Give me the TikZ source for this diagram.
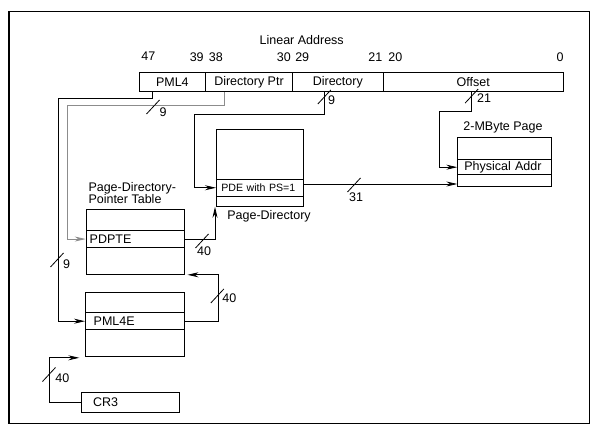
\documentclass[tikz,border=0pt]{standalone}
\usepackage{fontspec}
\setmainfont{Liberation Sans}
\usepackage{tikz}
\usetikzlibrary{arrows.meta}

\begin{document}
\begin{tikzpicture}[x=1pt,y=-1pt,
    every node/.style={font=\fontsize{12.5}{12.5}\selectfont,inner sep=0pt},
    addrfield/.style={draw,line width=0.8pt,minimum height=19pt},
    tabbox/.style={draw,line width=0.8pt,anchor=north west},
    entry/.style={draw,line width=0.8pt,anchor=north west,align=left,inner ysep=0pt},
    link/.style={line width=0.8pt,-{Stealth[length=11pt,width=5pt]}},
    wire/.style={line width=0.8pt}]
\useasboundingbox (0,0) rectangle (599,430);
\draw[line width=1.4pt] (9,11.7) rectangle (589.3,423.3);
% linear address
\node (latitle) at (301.7,40) {Linear Address};
\foreach \bx/\bt [count=\k] in {148.3/47,196.7/39,215.8/38,283.8/30,302.2/29,375.3/21,395.3/20,560.2/0}
{
    \node (bit\k) at (\bx,56.7) {\bt};
}
\foreach \n/\l/\r/\t in {pml4/139/205.7/PML4,dirptr/205.7/292.3/Directory Ptr,dir/292.3/383.3/Directory,offset/383.3/563.3/Offset}
{
    \node[addrfield,minimum width={\r-\l}] (\n) at ({(\l+\r)/2},82.2) {\t};
}
% tables
\node[tabbox,minimum width=87.3pt,minimum height=76.7pt] (pdtab) at (216,129.3) {};
\node[entry,text width=77.3pt,inner xsep=5pt,minimum height=16.7pt,font=\fontsize{10.6}{12}\selectfont] (pde) at (216,179) {PDE with PS=1};
\node (pdlbl) at (269,216.7) {Page-Directory};
\node[tabbox,minimum width=98.3pt,minimum height=64.7pt] (pdptab) at (85.7,209.3) {};
\node[entry,text width=91.1pt,inner xsep=3.6pt,minimum height=17.3pt] (pdpte) at (85.7,230) {PDPTE};
\node[align=left,anchor=west,font=\fontsize{12.5}{11.7}\selectfont] (pdptlbl) at (88.3,193) {Page-Directory-\\Pointer Table};
\node[tabbox,minimum width=99.3pt,minimum height=64.3pt] (pml4tab) at (85,291.7) {};
\node[entry,text width=82.7pt,inner xsep=8.3pt,minimum height=17pt] (pml4e) at (85,312.3) {PML4E};
\node[tabbox,minimum width=93.4pt,minimum height=48.7pt] (pgtab) at (457.3,137.3) {};
\node[entry,text width=80pt,inner xsep=6.7pt,minimum height=15pt] (phys) at (457.3,159.3) {Physical Addr};
\node (pglbl) at (503,127.3) {2-MByte Page};
\node[entry,text width=74.6pt,inner xsep=12pt,minimum height=20pt] (cr3) at (80.7,391.7) {CR3};
% connectors
\coordinate (pgin) at (457.3,184);
\draw[link] ([xshift=13.3pt]pml4.south west) -- ++(0,6.6) -- ++(-94,0) |- (pml4e.west);
\draw[link,black!45] ([xshift=18.6pt]dirptr.south west) -- ++(0,13.3) -- ++(-157,0) |- (pdpte.west);
\draw[link] ([xshift=32pt]dir.south west) -- ++(0,22.8) -- ++(-129.8,0) |- (pde.west);
\draw[link] ([xshift=88.4pt]offset.south west) -- ++(0,19.3) -- ++(-32.4,0) |- (phys.west);
\draw[link] (pde.east |- pgin) -- (pgin);
\draw[link] (pdpte.east) -| ([xshift=-1pt]pdtab.south west);
\draw[link] (pml4e.east) -- ++(33,0) |- ([xshift=2.7pt]pdptab.south east);
\draw[link] (cr3.west) -- ++(-31.7,0) |- ([xshift=-5.7pt,yshift=-1pt]pml4tab.south west);
% bit widths
\foreach \sx/\sy/\lx/\ly/\t [count=\k] in {153/107/163/111.7/9,57/260/66.7/264/9,324.3/97/331.7/100/9,471.7/96/484/97.7/21,354/185/356/197.3/31,202/241/204/251/40,217.3/296/229.3/298.3/40,49/374.5/62.3/377.7/40}
{
    \draw[wire] (\sx-6.5,\sy+7) -- (\sx+6.5,\sy-7);
    \node (bw\k) at (\lx,\ly) {\t};
}
\end{tikzpicture}
\end{document}
